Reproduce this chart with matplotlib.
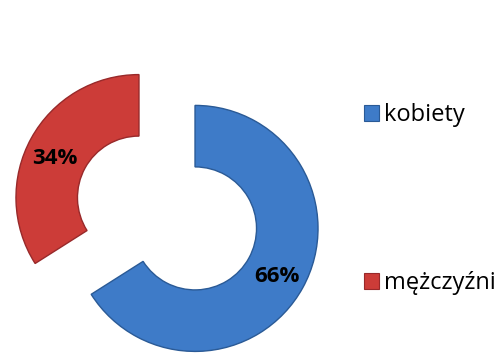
import matplotlib
matplotlib.use("Agg")
import matplotlib.pyplot as plt
from matplotlib.patches import Patch

# Udział kobiet i mężczyzn
labels = ["kobiety", "mężczyźni"]
values = [66, 34]
colors = ["#3E7BC8", "#CC3C38"]
edges = ["#2A5A96", "#98292A"]

plt.rcParams['font.family'] = ['Open Sans', 'DejaVu Sans']

W, H = 497, 353
fig = plt.figure(figsize=(W / 100, H / 100), dpi=100)

# oś w pikselach: 1 jednostka = promień pierścienia
R = 123.0
cx, cy = 167.0, 140.0
ax = fig.add_axes([0, 0, 1, 1])

wedges, _ = ax.pie(values, colors=colors, startangle=90, counterclock=False,
                   explode=[0.26, 0.26],
                   wedgeprops=dict(width=0.5, linewidth=1.0))
for w, ec in zip(wedges, edges):
    w.set_edgecolor(ec)

ax.set_xlim(-cx / R, (W - cx) / R)
ax.set_ylim(-cy / R, (H - cy) / R)
ax.axis('off')

# etykiety procentowe
def px(x, y):
    return ((x - cx) / R, ((H - y) - cy) / R)

ax.text(*px(55, 158), f"{values[1]}%", ha='center', va='center',
        fontsize=16, fontweight='bold')
ax.text(*px(277, 277), f"{values[0]}%", ha='center', va='center',
        fontsize=16, fontweight='bold')

handles = [Patch(facecolor=c, edgecolor=e, linewidth=0.8) for c, e in zip(colors, edges)]
fig.legend(handles, labels, loc='upper left', bbox_to_anchor=(364 / W, 1 - 103 / H),
           frameon=False, fontsize=17, borderpad=0, borderaxespad=0,
           handlelength=0.64, handleheight=0.64, handletextpad=0.2,
           labelspacing=6.1)

fig.savefig("out.png", dpi=100)
